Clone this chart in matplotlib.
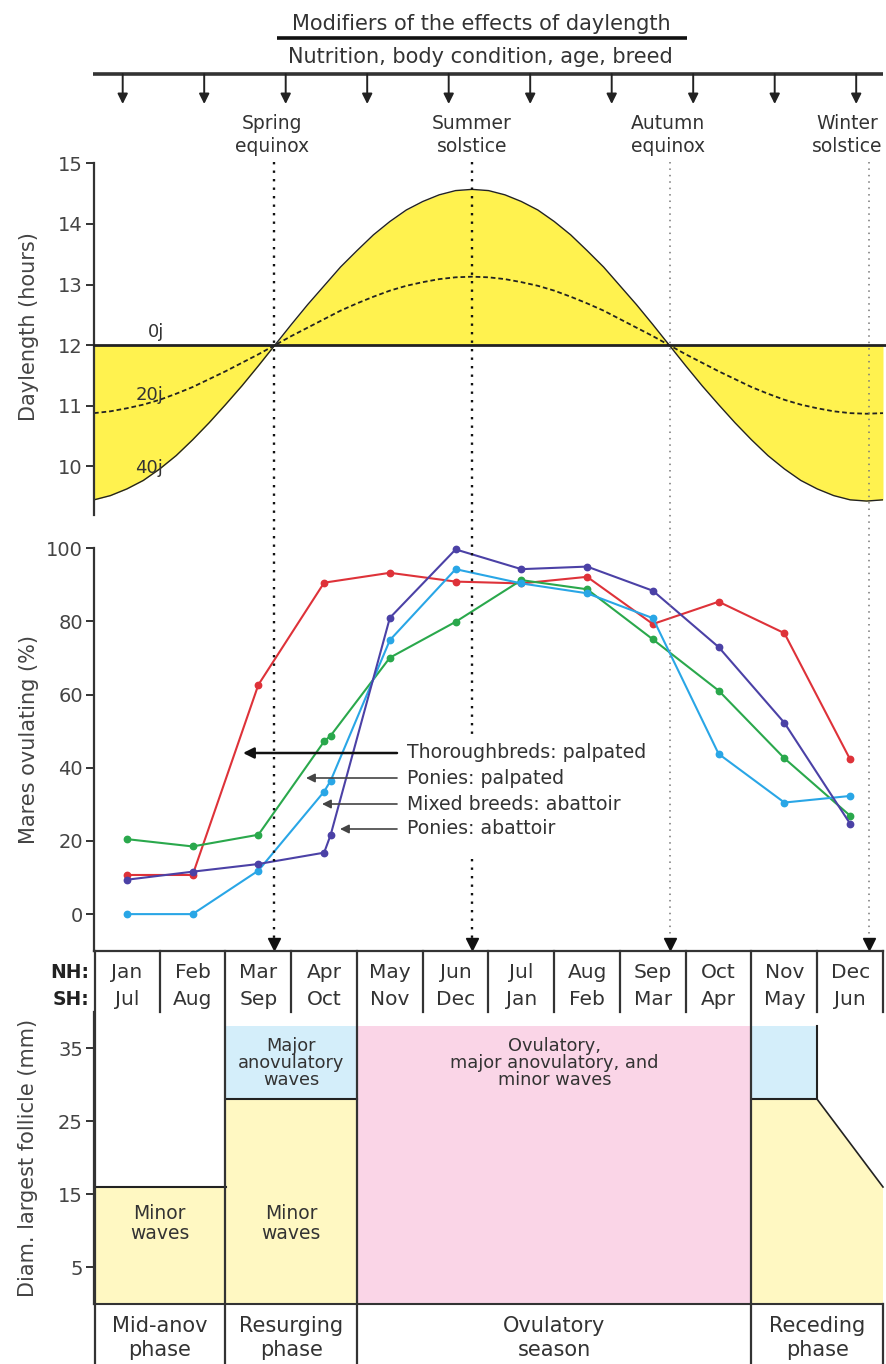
import numpy as np
import matplotlib
matplotlib.use("Agg")
import matplotlib.pyplot as plt
from matplotlib.patches import Rectangle, Polygon

# ---------------- data ----------------
months_nh = ["Jan", "Feb", "Mar", "Apr", "May", "Jun", "Jul", "Aug", "Sep", "Oct", "Nov", "Dec"]
months_sh = ["Jul", "Aug", "Sep", "Oct", "Nov", "Dec", "Jan", "Feb", "Mar", "Apr", "May", "Jun"]

event_labels = ["Spring\nequinox", "Summer\nsolstice", "Autumn\nequinox", "Winter\nsolstice"]
event_month = [2.74, 5.75, 8.76, 11.78]          # position in months from 1 Jan
event_label_month = [2.71, 5.75, 8.73, 11.46]

# daylength (hours) read every quarter month, 1 Jan .. 31 Dec
day_t = [0, 0.25, 0.5, 0.75, 1, 1.25, 1.5, 1.75, 2, 2.25, 2.5, 2.75,
         3, 3.25, 3.5, 3.75, 4, 4.25, 4.5, 4.75, 5, 5.25, 5.5, 5.75,
         6, 6.25, 6.5, 6.75, 7, 7.25, 7.5, 7.75, 8, 8.25, 8.5, 8.75,
         9, 9.25, 9.5, 9.75, 10, 10.25, 10.5, 10.75, 11, 11.25, 11.5, 11.75, 12]
day_40 = [9.45, 9.52, 9.63, 9.77, 9.96, 10.18, 10.44, 10.72, 11.02, 11.33, 11.66, 12.00,
          12.34, 12.67, 12.98, 13.29, 13.56, 13.82, 14.04, 14.23, 14.37, 14.48, 14.55, 14.57,
          14.55, 14.48, 14.37, 14.23, 14.04, 13.82, 13.56, 13.29, 12.98, 12.67, 12.34, 12.00,
          11.66, 11.33, 11.02, 10.72, 10.44, 10.18, 9.96, 9.77, 9.63, 9.52, 9.45, 9.43, 9.45]
day_20 = [10.88, 10.91, 10.96, 11.02, 11.10, 11.20, 11.31, 11.44, 11.57, 11.71, 11.85, 12.00,
          12.15, 12.29, 12.43, 12.57, 12.69, 12.80, 12.90, 12.98, 13.04, 13.09, 13.12, 13.13,
          13.12, 13.09, 13.04, 12.98, 12.90, 12.80, 12.69, 12.57, 12.43, 12.29, 12.15, 12.00,
          11.85, 11.71, 11.57, 11.44, 11.31, 11.20, 11.10, 11.02, 10.96, 10.91, 10.88, 10.87, 10.88]
lat_labels = ["0j", "20j", "40j"]
lat_label_pos = [(0.95, 12.21), (0.84, 11.18), (0.84, 9.97)]

series_names = ["Thoroughbreds: palpated", "Ponies: palpated",
                "Mixed breeds: abattoir", "Ponies: abattoir"]
thoroughbreds_palpated = [10.7, 10.7, 62.7, 90.6, 93.3, 90.9, 90.4, 92.2, 79.3, 85.4, 76.8, 42.3]
ponies_palpated = [20.5, 18.5, 21.7, 47.2, 70.1, 79.9, 91.3, 88.8, 75.1, 61.1, 42.6, 26.9]
mixed_abattoir = [0.0, 0.0, 11.9, 33.5, 74.9, 94.3, 90.4, 87.7, 80.9, 43.8, 30.5, 32.3]
ponies_abattoir = [9.4, 11.6, 13.7, 16.8, 81.0, 99.7, 94.3, 95.0, 88.4, 73.0, 52.3, 24.7]
late_april = [None, 48.8, 36.5, 21.7]   # extra sample shortly after the April point
series_colors = ["#DE3239", "#2AA84C", "#29A6E6", "#4B41A6"]

phase_labels = ["Mid-anov\nphase", "Resurging\nphase", "Ovulatory\nseason", "Receding\nphase"]
phase_bounds = [0, 2, 4, 10, 12]
minor_top = [16, 28, 28, 16]     # mid-anov, resurging, receding start, receding end (mm)
major_top = 38                  # mm
wave_texts = ["Minor\nwaves", "Minor\nwaves", "Major\nanovulatory\nwaves",
              "Ovulatory,\nmajor anovulatory, and\nminor waves"]

# ---------------- layout ----------------
W, H = 886, 1364
fig = plt.figure(figsize=(W / 100, H / 100), dpi=100)
plt.rcParams["font.family"] = ["DejaVu Sans"]
XL, XR = 94, 883

YEL = "#FFF24F"
PALE = "#FFF8C2"
BLUE = "#D4EEFA"
PINK = "#FAD5E7"
TXT = "#333333"
AX = "#333333"


def add_ax(top, bottom):
    return fig.add_axes([XL / W, 1 - bottom / H, (XR - XL) / W, (bottom - top) / H])


def px(m):
    return XL + m * (XR - XL) / 12.0


def style_left(ax, ticks):
    for s in ["top", "right", "bottom"]:
        ax.spines[s].set_visible(False)
    ax.spines["left"].set_linewidth(1.6)
    ax.spines["left"].set_color(AX)
    ax.set_xticks([])
    ax.set_yticks(ticks)
    ax.tick_params(axis="y", direction="out", length=6, width=1.4, color=AX,
                   labelsize=14, labelcolor="#444444", pad=2)
    ax.set_xlim(0, 12)
    ax.patch.set_alpha(0)


# ---- daylength panel ----
ax1 = add_ax(163.3, 515)
ax1.set_ylim(9.2, 15)
style_left(ax1, [10, 11, 12, 13, 14, 15])
ax1.fill_between(day_t, day_40, 12, color=YEL, lw=0, zorder=1)
ax1.plot(day_t, day_40, color="#222222", lw=1.0, zorder=2)
ax1.plot(day_t, day_20, color="#222222", lw=1.3, ls=(0, (2.6, 1.6)), zorder=2)
ax1.axhline(12, color="#222222", lw=2.0, zorder=3, xmax=1.004, clip_on=False)
for lab, (mx, my) in zip(lat_labels, lat_label_pos):
    ax1.text(mx, my, lab, ha="center", va="center", fontsize=13, color=TXT, zorder=4)

# ---- ovulation panel ----
ax2 = add_ax(548.3, 950.7)
ax2.set_ylim(-10, 100)
style_left(ax2, [0, 20, 40, 60, 80, 100])
xs = np.arange(12) + 0.5
all_series = [thoroughbreds_palpated, ponies_palpated, mixed_abattoir, ponies_abattoir]
for vals, extra, col in zip(all_series, late_april, series_colors):
    x = list(xs)
    y = list(vals)
    if extra is not None:
        x.insert(4, 3.6)
        y.insert(4, extra)
    ax2.plot(x, y, color=col, lw=1.5, marker="o", ms=4.6, clip_on=False, zorder=3)

# ---- follicle panel ----
ax3 = add_ax(1011.8, 1303.8)
ax3.set_ylim(0, 40)
style_left(ax3, [5, 15, 25, 35])
b = phase_bounds
# mid-anovulatory
ax3.add_patch(Rectangle((b[0], 0), b[1] - b[0], minor_top[0], fc=PALE, ec="none"))
ax3.plot([b[0], b[1]], [minor_top[0]] * 2, color="#222222", lw=1.5)
# resurging
ax3.add_patch(Rectangle((b[1], 0), b[2] - b[1], minor_top[1], fc=PALE, ec="none"))
ax3.add_patch(Rectangle((b[1], minor_top[1]), b[2] - b[1], major_top - minor_top[1], fc=BLUE, ec="none"))
ax3.plot([b[1], b[2]], [minor_top[1]] * 2, color="#222222", lw=1.5)
# ovulatory season
ax3.add_patch(Rectangle((b[2], 0), b[3] - b[2], major_top, fc=PINK, ec="none"))
# receding
ax3.add_patch(Polygon([(b[3], 0), (b[3], minor_top[2]), (b[3] + 1, minor_top[2]),
                       (b[4], minor_top[3]), (b[4], 0)], closed=True, fc=PALE, ec="none"))
ax3.add_patch(Rectangle((b[3], minor_top[2]), 1, major_top - minor_top[2], fc=BLUE, ec="none"))
ax3.plot([b[3], b[3] + 1, b[3] + 1], [minor_top[2], minor_top[2], major_top], color="#222222", lw=1.5)
ax3.plot([b[3] + 1, b[4]], [minor_top[2], minor_top[3]], color="#222222", lw=1.2, clip_on=False)
# texts
ax3.text(1, 11.0, wave_texts[0], ha="center", va="center", fontsize=13.5, color=TXT, linespacing=1.05)
ax3.text(3, 11.0, wave_texts[1], ha="center", va="center", fontsize=13.5, color=TXT, linespacing=1.05)
ax3.text(3, 33.0, wave_texts[2], ha="center", va="center", fontsize=12.8, color=TXT, linespacing=0.92)
ax3.text(7, 33.0, wave_texts[3], ha="center", va="center", fontsize=12.8, color=TXT, linespacing=0.92)

# ---- month row ----
axm = add_ax(950.7, 1011.8)
axm.set_xlim(0, 12)
axm.set_ylim(0, 1)
axm.axis("off")
for i, (a, c) in enumerate(zip(months_nh, months_sh)):
    axm.text(i + 0.5, 0.56, a, ha="center", va="baseline", fontsize=14.5, color=TXT)
    axm.text(i + 0.5, 0.11, c, ha="center", va="baseline", fontsize=14.5, color=TXT)

# ---- phase row ----
axp = add_ax(1303.8, 1364)
axp.set_xlim(0, 12)
axp.set_ylim(0, 1)
axp.axis("off")
for i, lab in enumerate(phase_labels):
    l1, l2 = lab.split("\n")
    cx = (b[i] + b[i + 1]) / 2
    axp.text(cx, 0.53, l1, ha="center", va="baseline", fontsize=15, color=TXT)
    axp.text(cx, 0.13, l2, ha="center", va="baseline", fontsize=15, color=TXT)

# ---- overlay (decorations in pixel space) ----
ov = fig.add_axes([0, 0, 1, 1])
ov.set_xlim(0, W)
ov.set_ylim(H, 0)
ov.axis("off")
ov.patch.set_alpha(0)

# header
ov.text(481, 30, "Modifiers of the effects of daylength", ha="center", va="baseline",
        fontsize=15, color=TXT)
ov.plot([277, 687], [37.5, 37.5], color="#111111", lw=2.6, solid_capstyle="butt")
ov.text(480, 63, "Nutrition, body condition, age, breed", ha="center", va="baseline",
        fontsize=15, color=TXT)
ov.plot([93, 883], [73.5, 73.5], color="#333333", lw=2.6, solid_capstyle="butt")
for xa in np.linspace(122.7, 856.2, 10):
    ov.annotate("", xy=(xa, 104), xytext=(xa, 74),
                arrowprops=dict(arrowstyle="-|>", color="#222222", lw=1.4,
                                mutation_scale=15, shrinkA=0, shrinkB=0))
for lab, m in zip(event_labels, event_label_month):
    l1, l2 = lab.split("\n")
    ov.text(px(m), 129, l1, ha="center", va="baseline", fontsize=13.5, color=TXT)
    ov.text(px(m), 152, l2, ha="center", va="baseline", fontsize=13.5, color=TXT)

# event dotted lines with arrowheads
for k, m in enumerate(event_month):
    if k < 2:
        ov.plot([px(m), px(m)], [162, 940], color="#111111", lw=1.7, ls=(0, (1, 2.6)), zorder=2)
    else:
        ov.plot([px(m), px(m)], [162, 940], color="#777777", lw=1.1, ls=(0, (1, 3.2)), zorder=2)
    ov.plot(px(m), 944, marker="v", ms=8, color="#111111", zorder=2)

# legend block
ov.add_patch(Rectangle((404, 735), 252, 118, fc="white", ec="none", zorder=3))
leg_y = [753, 778, 804, 829]
arrow_end = [243, 306, 322, 340]
for name, yy, xe, k in zip(series_names, leg_y, arrow_end, range(4)):
    ov.text(407, yy, name, ha="left", va="center", fontsize=13.6, color=TXT, zorder=4)
    if k == 0:
        ov.annotate("", xy=(xe, yy), xytext=(397, yy),
                    arrowprops=dict(arrowstyle="-|>", color="#111111", lw=1.8,
                                    mutation_scale=16, shrinkA=0, shrinkB=0), zorder=4)
    else:
        ov.annotate("", xy=(xe, yy), xytext=(397, yy),
                    arrowprops=dict(arrowstyle="-|>", color="#444444", lw=1.2,
                                    mutation_scale=13, shrinkA=0, shrinkB=0), zorder=4)

# y labels
ov.text(29.5, 327, "Daylength (hours)", rotation=90, ha="center", va="center", fontsize=15, color="#444444")
ov.text(29, 740, "Mares ovulating (%)", rotation=90, ha="center", va="center", fontsize=15, color="#444444")
ov.text(28.5, 1158, "Diam. largest follicle (mm)", rotation=90, ha="center", va="center",
        fontsize=15, color="#444444")

# NH / SH
ov.text(89, 978, "NH:", ha="right", va="baseline", fontsize=13.5, fontweight="bold", color="#222222")
ov.text(89, 1005, "SH:", ha="right", va="baseline", fontsize=13.5, fontweight="bold", color="#222222")

# grid lines of the month and phase rows
LC = "#333333"
ov.plot([XL, XR], [950.7, 950.7], color=LC, lw=1.6)
ov.plot([XL, XR], [1303.8, 1303.8], color=LC, lw=1.5)
ov.plot([XL + 1, XL + 1], [950.7, 1364], color=LC, lw=1.6)
for m in range(1, 13):
    if m in phase_bounds:
        if m == 12:
            ov.plot([px(m), px(m)], [950.7, 1011.8], color=LC, lw=1.6)
            ov.plot([px(m), px(m)], [1303.8, 1364], color=LC, lw=1.6)
        else:
            ov.plot([px(m), px(m)], [950.7, 1364], color=LC, lw=1.6)
    else:
        ov.plot([px(m), px(m)], [950.7, 1011.8], color=LC, lw=1.6)

fig.savefig("out.png", dpi=100)
